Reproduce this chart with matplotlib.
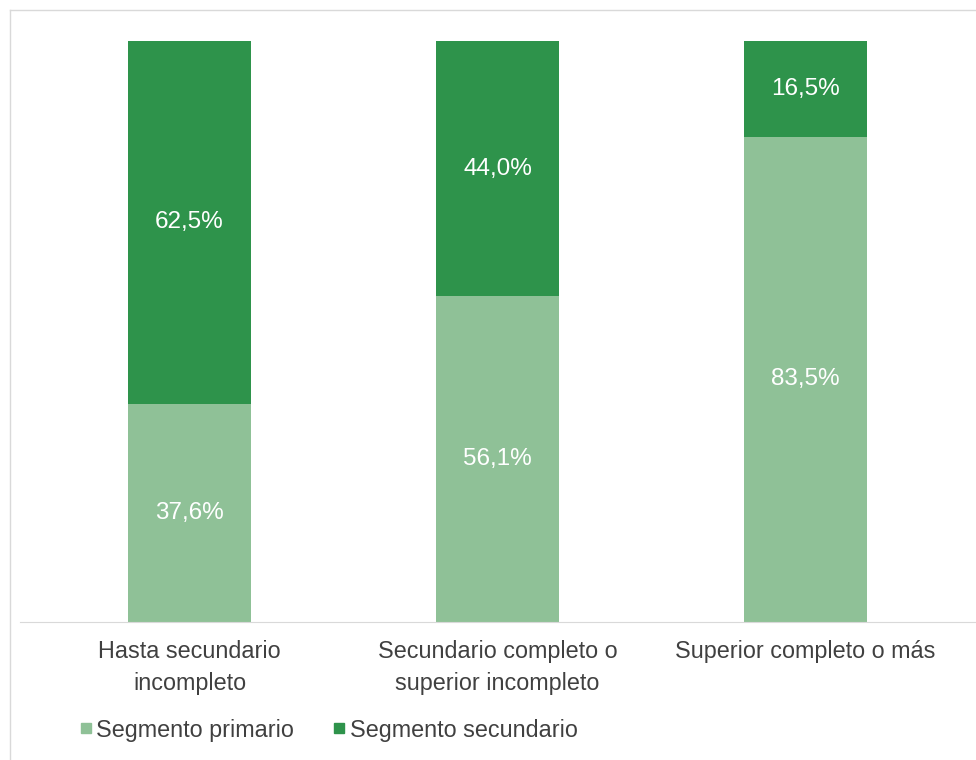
import matplotlib
matplotlib.use("Agg")
import matplotlib.pyplot as plt
from matplotlib.lines import Line2D
import numpy as np

categories = ["Hasta secundario\nincompleto",
              "Secundario completo o\nsuperior incompleto",
              "Superior completo o más"]
primario = [37.6, 56.1, 83.5]
secundario = [62.5, 44.0, 16.5]
series_names = ["Segmento primario", "Segmento secundario"]

LIGHT = "#8fc197"
DARK = "#2e934b"
TEXT = "#404040"

plt.rcParams.update({"font.family": ["Liberation Sans", "DejaVu Sans"], "font.size": 16})

W, H = 976, 760
fig = plt.figure(figsize=(W / 100, H / 100), dpi=100)

# chart frame
fig.add_artist(Line2D([10 / W, 10 / W], [0, 1 - 10 / H], color="#d9d9d9", lw=1))
fig.add_artist(Line2D([10 / W, 1], [1 - 10 / H, 1 - 10 / H], color="#d9d9d9", lw=1))

ax = fig.add_axes([20 / W, 1 - 622 / H, 1 - 20 / W, (622 - 41) / H])

p = np.array(primario)
s = np.array(secundario)
tot = p + s
p_n = p / tot * 100
s_n = s / tot * 100
x = np.arange(len(categories))

ax.bar(x, p_n, width=0.4, color=LIGHT, label=series_names[0])
ax.bar(x, s_n, width=0.4, bottom=p_n, color=DARK, label=series_names[1])

for i in range(len(x)):
    ax.text(x[i], p_n[i] / 2, f"{primario[i]:.1f}%".replace(".", ","),
            ha="center", va="center", color="white", fontsize=17.5)
    ax.text(x[i], p_n[i] + s_n[i] / 2, f"{secundario[i]:.1f}%".replace(".", ","),
            ha="center", va="center", color="white", fontsize=17.5)

ax.set_xlim(-0.55, 2.553)
ax.set_ylim(0, 100)
ax.set_yticks([])
ax.set_xticks(x)
ax.set_xticklabels(categories, fontsize=16.8, color=TEXT, linespacing=1.5)
ax.tick_params(axis="x", length=0, pad=13)
for side in ["top", "right", "left"]:
    ax.spines[side].set_visible(False)
ax.spines["bottom"].set_color("#d9d9d9")

handles = [Line2D([], [], marker="s", ls="", color=LIGHT, markersize=7),
           Line2D([], [], marker="s", ls="", color=DARK, markersize=7)]
fig.legend(handles, series_names, loc="center left",
           bbox_to_anchor=(47 / W, 1 - 730 / H), ncol=2, frameon=False,
           fontsize=16.8, handletextpad=-0.3, columnspacing=1.2,
           handlelength=1.5, labelcolor=TEXT)

fig.savefig("out.png", dpi=100)
